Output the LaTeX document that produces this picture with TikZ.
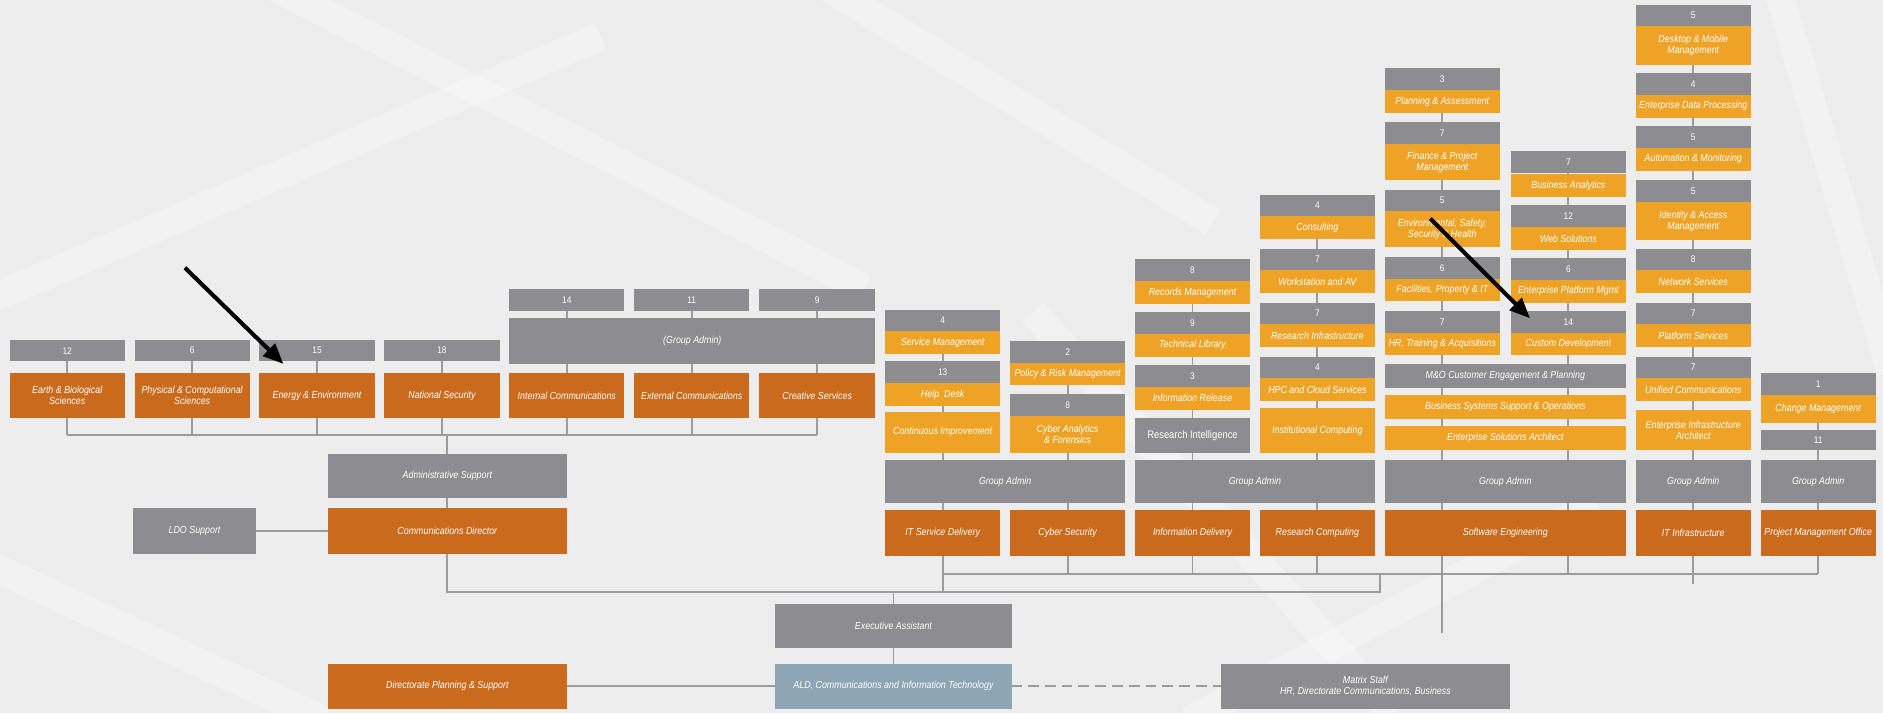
\documentclass[tikz,border=0pt]{standalone}
\usepackage{fontspec}
\setmainfont{Liberation Sans}[FakeStretch=0.87]
\usepackage{xcolor}
\usepackage{tikz}
\usetikzlibrary{arrows.meta}
\definecolor{rust}{HTML}{C96A1C}
\definecolor{amber}{HTML}{EFA326}
\definecolor{boxgray}{HTML}{8D8D91}
\definecolor{slate}{HTML}{8CA6B6}
\definecolor{linegray}{HTML}{9C9C9E}
\definecolor{paper}{HTML}{EDEDEE}
\pgfdeclarelayer{back}
\pgfdeclarelayer{wires}
\pgfsetlayers{back,wires,main}

\begin{document}
\begin{tikzpicture}[x=1pt,y=-1pt,
    box/.style={anchor=north west, inner sep=1pt, outer sep=0pt, minimum width=96, align=center, text=white, font=\fontsize{8.5}{9.2}\selectfont\itshape},
    ht/.style={minimum height=#1},
    wd/.style={minimum width=#1},
    num/.style={box, fill=boxgray, ht=18, font=\fontsize{8}{8.5}\selectfont},
    gb/.style={box, fill=boxgray},
    ab/.style={box, fill=amber},
    ob/.style={box, fill=rust},
    bb/.style={box, fill=slate},
    link/.style={draw=linegray, line width=1.6},
    pointer/.style={line width=3.4, -{Triangle[length=17,width=14]}}]
    \useasboundingbox (0,0) rectangle (1568,594);
    \begin{pgfonlayer}{back}
    \fill[paper] (0,0) rectangle (1568,594);
    \foreach \a/\b/\c/\d in {230/-10/720/240, -10/250/500/30, 690/-10/1010/185, 1480/-10/1575/310, -10/470/270/600, 990/600/1330/420, 860/260/1160/594}
        \draw[white, opacity=.3, line width=24] (\a,\b) -- (\c,\d);
    \end{pgfonlayer}

    \coordinate (bus1) at (0,362);
    \coordinate (bus2) at (0,493);
    \coordinate (bus3) at (0,478);
    \coordinate (jn) at (1149,478);
    \coordinate (stub1) at (0,527);
    \coordinate (stub2) at (0,486);

    \node[num] (earthn) at (8,283) {12};
    \node[num] (physn) at (112,283) {6};
    \node[num] (energyn) at (216,283) {15};
    \node[num] (natsecn) at (320,283) {18};
    \node[num] (intcomn) at (424,241) {14};
    \node[num] (extcomn) at (528,241) {11};
    \node[num, wd=97] (creatn) at (632,241) {9};
    \node[gb, wd=305, ht=38] (gacomm) at (424,265) {(Group Admin)};
    \node[ob, ht=37] (earth) at (8,311) {Earth \& Biological\\Sciences};
    \node[ob, ht=37] (phys) at (112,311) {Physical \& Computational\\Sciences};
    \node[ob, ht=37] (energy) at (216,311) {Energy \& Environment};
    \node[ob, ht=37] (natsec) at (320,311) {National Security};
    \node[ob, ht=37] (intcom) at (424,311) {Internal Communications};
    \node[ob, ht=37] (extcom) at (528,311) {External Communications};
    \node[ob, ht=37, wd=97] (creat) at (632,311) {Creative Services};

    \node[gb, wd=199, ht=37] (admsup) at (273,378) {Administrative Support};
    \node[ob, wd=199, ht=38] (commdir) at (273,423) {Communications Director};
    \node[gb, wd=102, ht=38] (ldo) at (111,423) {LDO Support};
    \node[gb, wd=198, ht=37] (exec) at (645,503) {Executive Assistant};
    \node[bb, wd=198, ht=37] (ald) at (645,553) {ALD, Communications and Information Technology};
    \node[ob, wd=199, ht=37] (dirplan) at (273,553) {Directorate Planning \& Support};
    \node[gb, wd=240, ht=37] (matrix) at (1017,553) {Matrix Staff\\HR, Directorate Communications, Business};

    \node[num] (smgn) at (737,258) {4};
    \node[ab, ht=19] (smg) at (737,276) {Service Management};
    \node[num] (hdskn) at (737,301) {13};
    \node[ab, ht=19] (hdsk) at (737,319) {Help\ \ Desk};
    \node[ab, ht=34] (cimp) at (737,343) {Continuous Improvement};
    \node[num] (prmn) at (841,284) {2};
    \node[ab, ht=19] (prm) at (841,302) {Policy \& Risk Management};
    \node[num] (cafn) at (841,328) {8};
    \node[ab, ht=31] (caf) at (841,346) {Cyber Analytics\\\& Forensics};
    \node[gb, wd=200, ht=36] (gaitsd) at (737,383) {Group Admin};
    \node[ob, ht=38] (itsd) at (737,425) {IT Service Delivery};
    \node[ob, ht=38] (cyber) at (841,425) {Cyber Security};

    \node[num] (recmn) at (945,216) {8};
    \node[ab, ht=19] (recm) at (945,234) {Records Management};
    \node[num] (tlibn) at (945,260) {9};
    \node[ab, ht=19] (tlib) at (945,278) {Technical Library};
    \node[num] (inrln) at (945,304) {3};
    \node[ab, ht=19] (inrl) at (945,322) {Information Release};
    \node[gb, ht=29, font=\fontsize{9}{9.5}\selectfont] (resint) at (945,348) {Research Intelligence};
    \node[num] (conn) at (1049,162) {4};
    \node[ab, ht=19] (con) at (1049,180) {Consulting};
    \node[num] (wsavn) at (1049,207) {7};
    \node[ab, ht=19] (wsav) at (1049,225) {Workstation and AV};
    \node[num] (rinfn) at (1049,252) {7};
    \node[ab, ht=19] (rinf) at (1049,270) {Research Infrastructure};
    \node[num] (hpcn) at (1049,297) {4};
    \node[ab, ht=19] (hpc) at (1049,315) {HPC and Cloud Services};
    \node[ab, ht=37] (icmp) at (1049,340) {Institutional Computing};
    \node[gb, wd=200, ht=36] (gainfo) at (945,383) {Group Admin};
    \node[ob, ht=38] (infodel) at (945,425) {Information Delivery};
    \node[ob, ht=38] (rescomp) at (1049,425) {Research Computing};

    \node[num] (planan) at (1153,57) {3};
    \node[ab, ht=19] (plana) at (1153,75) {Planning \& Assessment};
    \node[num] (finpmn) at (1153,102) {7};
    \node[ab, ht=30] (finpm) at (1153,120) {Finance \& Project\\Management};
    \node[num] (eshn) at (1153,158) {5};
    \node[ab, ht=30] (esh) at (1153,176) {Environmental, Safety,\\Security \& Health};
    \node[num] (facpn) at (1153,214) {6};
    \node[ab, ht=19] (facp) at (1153,232) {Facilities, Property \& IT};
    \node[num] (hrtan) at (1153,259) {7};
    \node[ab, ht=19] (hrta) at (1153,277) {HR, Training \& Acquisitions};
    \node[num] (busan) at (1258,126) {7};
    \node[ab, ht=19] (busa) at (1258,145) {Business Analytics};
    \node[num] (websn) at (1258,171) {12};
    \node[ab, ht=19] (webs) at (1258,189) {Web Solutions};
    \node[num] (epmn) at (1258,215) {6};
    \node[ab, ht=19] (epm) at (1258,233) {Enterprise Platform Mgmt};
    \node[num] (cdevn) at (1258,259) {14};
    \node[ab, ht=19] (cdev) at (1258,277) {Custom Development};
    \node[gb, wd=201, ht=20] (moce) at (1153,303) {M\&O Customer Engagement \& Planning};
    \node[ab, wd=201, ht=20] (bsso) at (1153,329) {Business Systems Support \& Operations};
    \node[ab, wd=201, ht=20] (esa) at (1153,355) {Enterprise Solutions Architect};
    \node[gb, wd=201, ht=36] (gasw) at (1153,383) {Group Admin};
    \node[ob, wd=201, ht=38] (sweng) at (1153,425) {Software Engineering};

    \node[num] (dmmn) at (1362,4) {5};
    \node[ab, ht=32] (dmm) at (1362,22) {Desktop \& Mobile\\Management};
    \node[num] (edpn) at (1362,61) {4};
    \node[ab, ht=19] (edp) at (1362,79) {Enterprise Data Processing};
    \node[num] (aumn) at (1362,105) {5};
    \node[ab, ht=19] (aum) at (1362,123) {Automation \& Monitoring};
    \node[num] (iamn) at (1362,150) {5};
    \node[ab, ht=32] (iam) at (1362,168) {Identity \& Access\\Management};
    \node[num] (netsn) at (1362,207) {8};
    \node[ab, ht=19] (nets) at (1362,225) {Network Services};
    \node[num] (platn) at (1362,252) {7};
    \node[ab, ht=19] (plat) at (1362,270) {Platform Services};
    \node[num] (ucomn) at (1362,297) {7};
    \node[ab, ht=19] (ucom) at (1362,315) {Unified Communications};
    \node[ab, ht=34] (eia) at (1362,341) {Enterprise Infrastructure\\Architect};
    \node[gb, ht=36] (gainf) at (1362,383) {Group Admin};
    \node[ob, ht=38] (itinf) at (1362,425) {IT Infrastructure};
    \node[num] (chgmn) at (1466,311) {1};
    \node[ab, ht=23] (chgm) at (1466,329) {Change Management};
    \node[num, ht=17] (pmon) at (1466,358) {11};
    \node[gb, ht=36] (gapmo) at (1466,383) {Group Admin};
    \node[ob, ht=38] (pmo) at (1466,425) {Project Management Office};

    \begin{pgfonlayer}{wires}
    \foreach \n in {earth,phys,energy,natsec,intcom,extcom,creat}
        \draw[link] (\n n.center) -- (\n.center |- bus1);
    \draw[link] (earth.center |- bus1) -- (creat.center |- bus1);
    \draw[link] (commdir.center) -- (admsup.center |- bus1);
    \draw[link] (ldo.center) -- (commdir.center);
    \draw[link] (commdir.center) |- (jn |- bus2) -- (jn);
    \draw[link] (exec.center |- bus2) -- (ald.center);
    \draw[link] (dirplan.center) -- (ald.center);
    \draw[link, dash pattern=on 9pt off 5pt] (ald.center) -- (matrix.center);
    \draw[link] (smgn.center) -- (itsd.center |- bus2);
    \draw[link] (prmn.center) -- (cyber.center |- bus3);
    \draw[link] (recmn.center) -- (infodel.center |- bus3);
    \draw[link] (conn.center) -- (rescomp.center |- bus3);
    \draw[link] (planan.center) -- (plana.center |- stub1);
    \draw[link] (busan.center) -- (busa.center |- bus3);
    \draw[link] (dmmn.center) -- (dmm.center |- stub2);
    \draw[link] (chgmn.center) -- (pmo.center |- bus3);
    \draw[link] (itsd.center |- bus3) -- (pmo.center |- bus3);
    \end{pgfonlayer}

    \coordinate (tail1) at (154,223);
    \coordinate (tip1) at (236,303);
    \coordinate (tail2) at (1191,182);
    \coordinate (tip2) at (1274,265);
    \draw[pointer] (tail1) -- (tip1);
    \draw[pointer] (tail2) -- (tip2);
\end{tikzpicture}
\end{document}
